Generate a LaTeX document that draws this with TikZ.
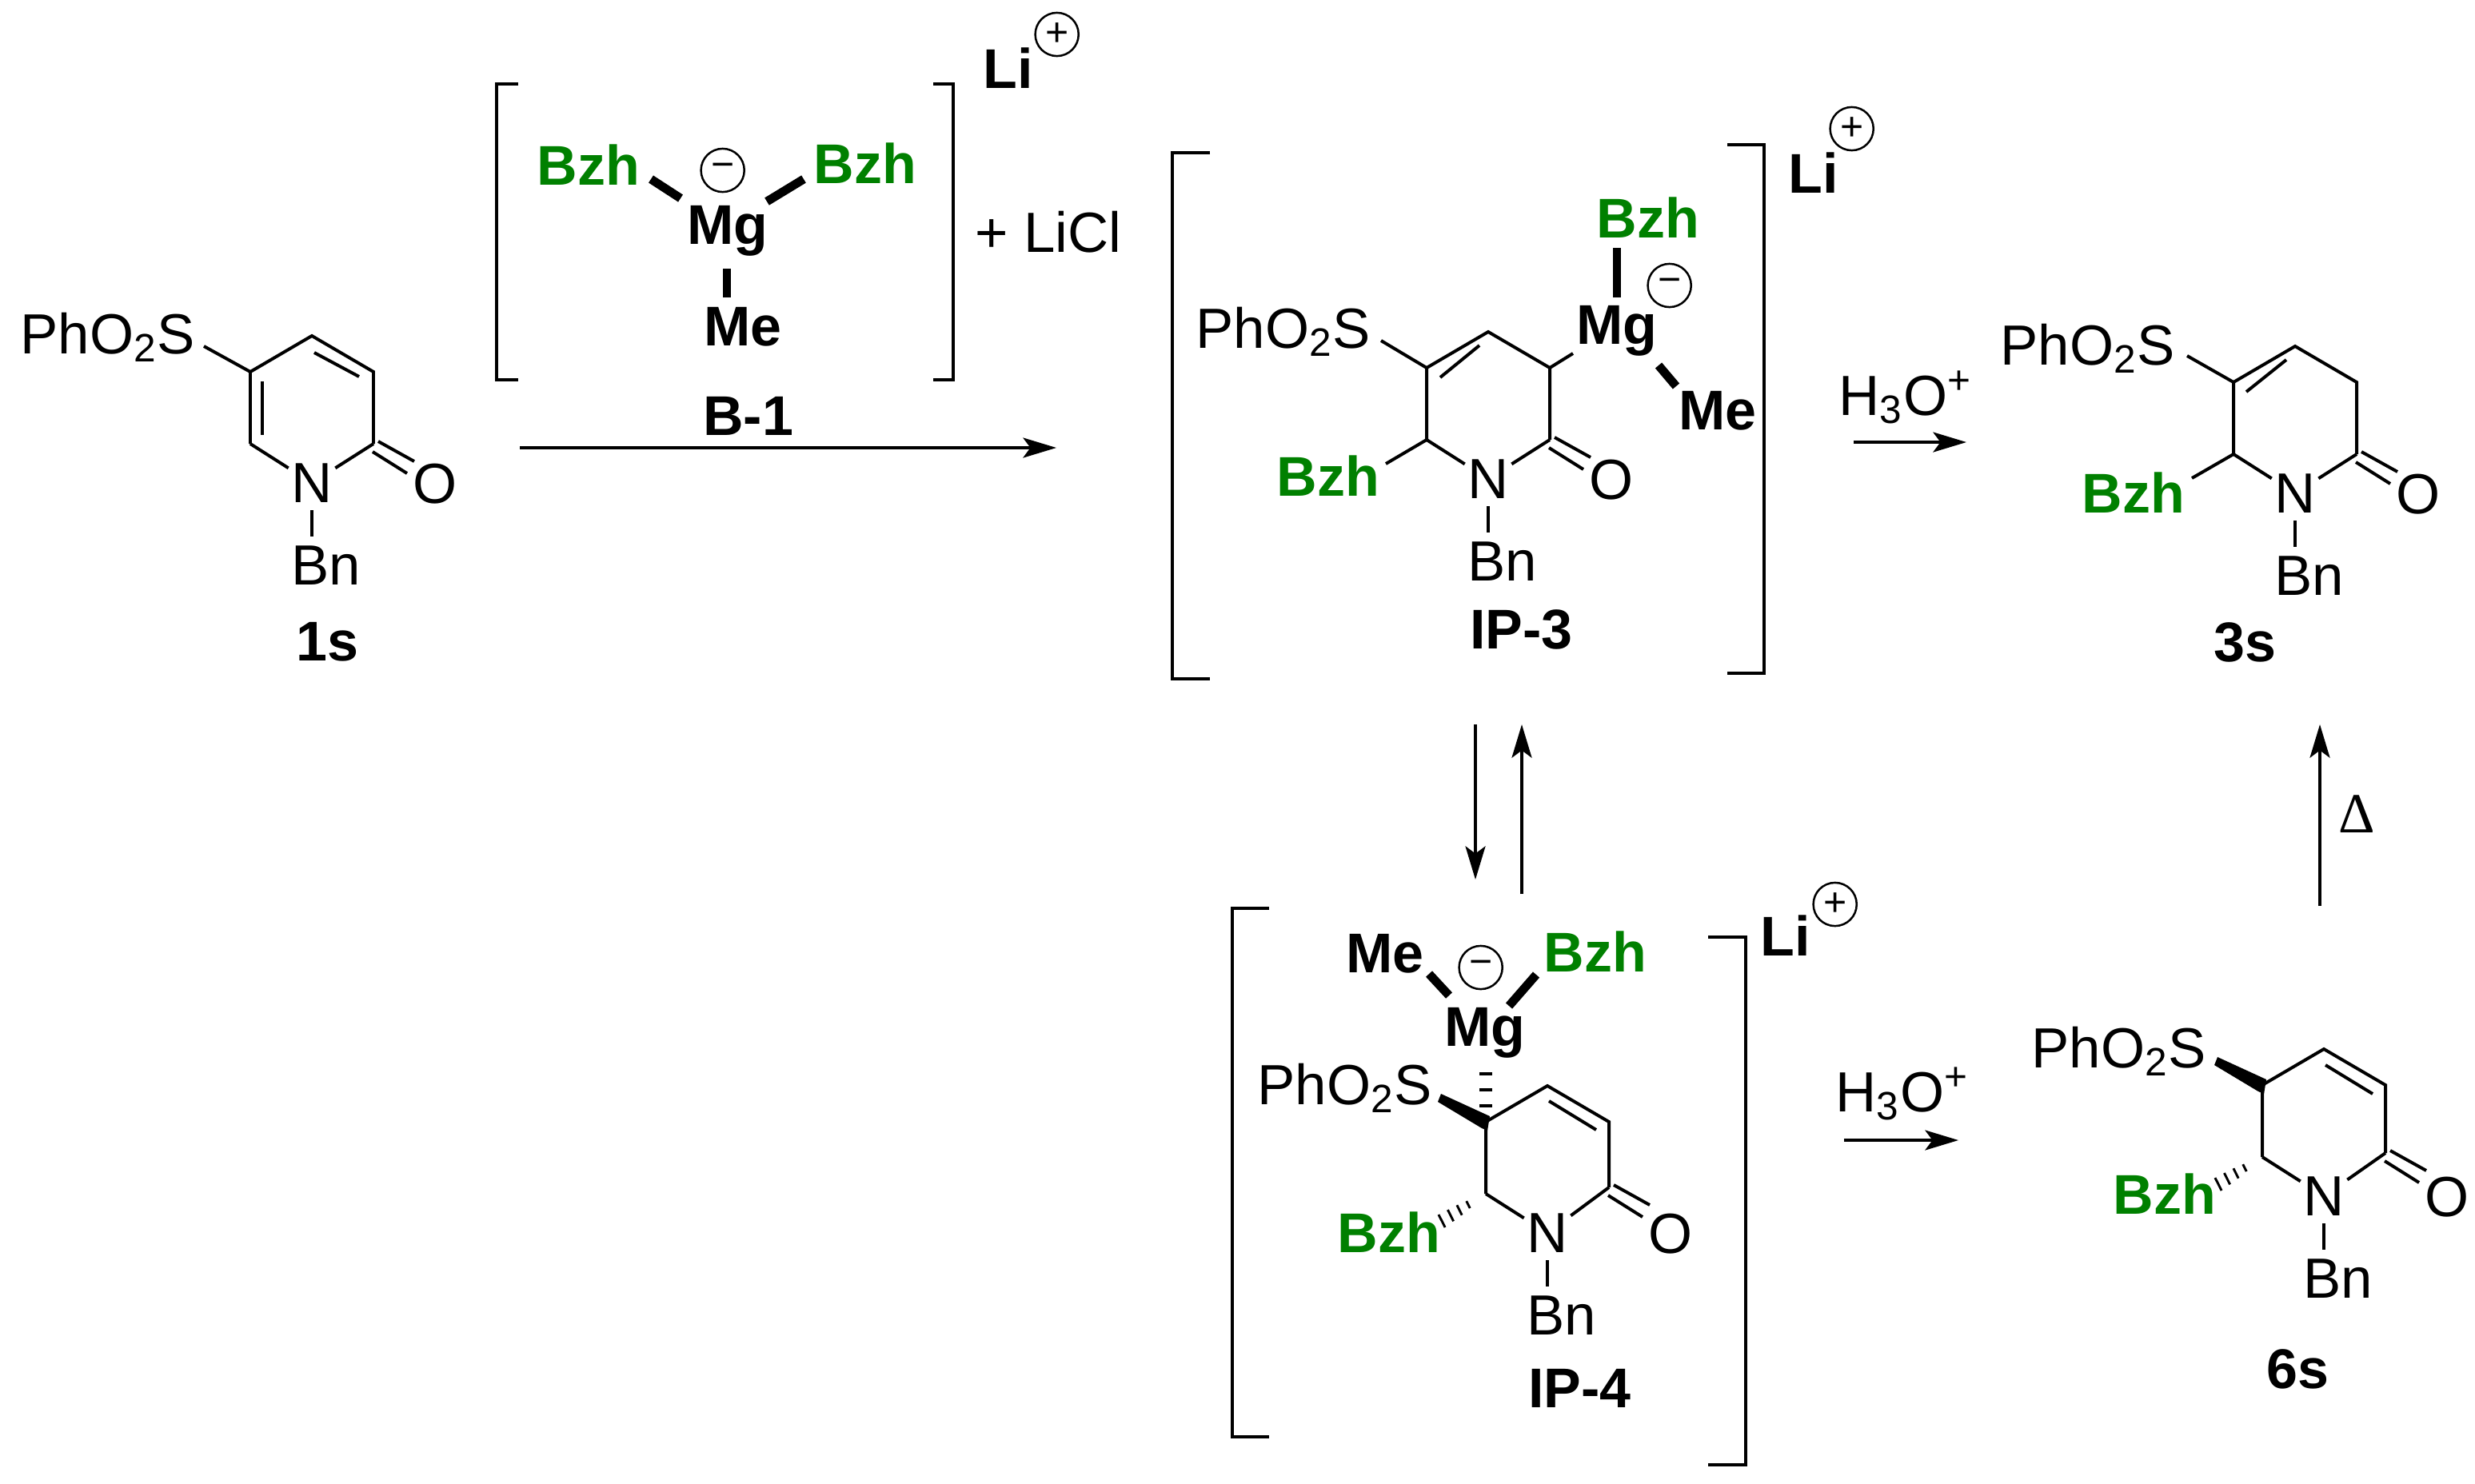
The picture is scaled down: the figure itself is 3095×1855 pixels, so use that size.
\documentclass[tikz,border=0pt]{standalone}
\usepackage{fontspec}
\setmainfont{Liberation Sans}
\newfontfamily\deltafont{Liberation Serif}
\usetikzlibrary{arrows.meta,calc}
\definecolor{bzhgreen}{RGB}{0,128,0}
\tikzset{
  x=0.24pt,y=-0.24pt,
  reg/.style={inner sep=0.7pt,xshift=-0.8pt,font=\fontsize{17}{18}\selectfont},
  bld/.style={inner sep=0.7pt,xshift=-0.8pt,font=\fontsize{16.8}{18}\selectfont\bfseries},
  grn/.style={bld,text=bzhgreen},
  phos/.style={reg,inner sep=0pt,anchor=base west},
  bond/.style={line width=0.95pt},
  bbond/.style={line width=2.6pt},
  brk/.style={line width=1pt},
  rxn/.style={line width=0.85pt,-{Stealth[length=10pt,width=6pt,inset=2.2pt]}},
  chgc/.style={circle,draw,xshift=-0.8pt,line width=0.6pt,inner sep=0pt,minimum size=13pt,font=\fontsize{12}{12}\selectfont},
}
% prefix, x and y of C4, height of C2 below C4
\newcommand{\pyridone}[4]{%
  \begin{scope}[shift={(#2,#3)}]
    \coordinate (#1c4) at (0,0);
    \coordinate (#1c5) at (-77,45);
    \coordinate (#1c3) at (77,45);
    \coordinate (#1c2) at (77,#4);
    \coordinate (#1c6) at (-77,135);
    \node[reg,xshift=0.8pt] (#1n) at (0,184) {N};
    \node[reg] (#1o) at (157,185) {O};
    \node[reg] (#1bn) at (21,287) {Bn};
    \coordinate (#1ca) at ($(#1c2)+(6,-3)$);
    \coordinate (#1cb) at ($(#1c2)+(-1,10)$);
    \coordinate (#1na) at (0,218);
    \coordinate (#1nb) at (0,251);
    \draw[bond,line join=miter] (#1c6) -- (#1c5) -- (#1c4) -- (#1c3) -- (#1c2);
    \draw[bond] (#1c6) -- (#1n) -- (#1c2);
    \draw[bond] (#1ca) -- ++(45,25);
    \draw[bond] (#1cb) -- ++(43,27);
    \draw[bond] (#1na) -- (#1nb);
  \end{scope}}
% hashed bond from C6 toward Bzh
\newcommand{\hashbond}[1]{%
  \foreach \t/\l in {.4/5,.6/7,.8/8,1/9}{%
    \draw[line width=0.7pt] ($(#1c6)+({-55*\t+.45*\l},{34*\t+.89*\l})$) -- ($(#1c6)+({-55*\t-.45*\l},{34*\t-.89*\l})$);
  }}
% bold stereo bond from the sulfur side to C5
\newcommand{\boldwedge}[2]{%
  \fill ($(#1)+(2,-5)$) -- ($(#1)+(-2,5)$) -- ($(#2)+(-5,8)$) -- ($(#2)+(2,11)$) -- ($(#2)+(5,-7)$) -- cycle;}
\begin{document}
\begin{tikzpicture}
\useasboundingbox (0,0) rectangle (3095,1855);
\fill[white] (0,0) rectangle (3095,1855);

% ---- 1s
\pyridone{a}{390}{420}{135}
\draw[bond] (328,477) -- (328,544);
\draw[bond] (393,441) -- (449,471);
\node[phos] (aps) at (28,442) {PhO\textsubscript{2}S};
\coordinate (as) at (255,433);
\draw[bond] (as) -- (ac5);
\node[bld] (lab1s) at (413,803) {1s};

% ---- B-1
\coordinate (b1a) at (648,105); \coordinate (b1b) at (621,105); \coordinate (b1c) at (621,475); \coordinate (b1d) at (648,475);
\draw[brk] (b1a) -- (b1b) -- (b1c) -- (b1d);
\coordinate (b2a) at (1167,105); \coordinate (b2b) at (1192,105); \coordinate (b2c) at (1192,475); \coordinate (b2d) at (1167,475);
\draw[brk] (b2a) -- (b2b) -- (b2c) -- (b2d);
\node[grn] (bz1) at (739,206) {Bzh};
\node[grn] (bz2) at (1085,204) {Bzh};
\node[chgc] (bm) at (907,213) {−};
\node[bld] (bmg) at (913,289) {Mg};
\node[bld] (bme) at (932,409) {Me};
\node[bld] (bl) at (939,520) {B-1};
\node[bld] (bli) at (1264,85) {Li};
\node[chgc] (bp) at (1325,43) {+};
\node[reg] (blicl) at (1314,290) {+ LiCl};
\coordinate (bb1) at (814,224); \coordinate (bb2) at (851,248);
\draw[bbond] (bb1) -- (bb2);
\coordinate (bb3) at (1005,224); \coordinate (bb4) at (959,252);
\draw[bbond] (bb3) -- (bb4);
\coordinate (bb5) at (909,336); \coordinate (bb6) at (909,372);
\draw[bbond] (bb5) -- (bb6);
\coordinate (r1a) at (650,560); \coordinate (r1b) at (1321,560);
\draw[rxn] (r1a) -- (r1b);

% ---- IP-3
\pyridone{c}{1861}{415}{135}
\draw[bond] (1801,472) -- (1850,432);
\node[phos] (cps) at (1498,435) {PhO\textsubscript{2}S};
\coordinate (cs) at (1727,426);
\draw[bond] (cs) -- (cc5);
\node[grn] (cbz) at (1664,595) {Bzh};
\coordinate (cb) at (1733,580);
\draw[bond] (cc6) -- (cb);
\coordinate (cm) at (1967,442);
\draw[bond] (cc3) -- (cm);
\node[bld] (cmg) at (2025,414) {Mg};
\node[grn] (cbz2) at (2064,272) {Bzh};
\node[bld] (cme) at (2151,514) {Me};
\node[chgc] (cmin) at (2091,357) {−};
\coordinate (cb1) at (2022,310); \coordinate (cb2) at (2022,372);
\draw[bbond] (cb1) -- (cb2);
\coordinate (cb3) at (2074,457); \coordinate (cb4) at (2096,483);
\draw[bbond] (cb3) -- (cb4);
\node[bld] (cl) at (1906,787) {IP-3};
\coordinate (c1a) at (1513,191); \coordinate (c1b) at (1466,191); \coordinate (c1c) at (1466,849); \coordinate (c1d) at (1513,849);
\draw[brk] (c1a) -- (c1b) -- (c1c) -- (c1d);
\coordinate (c2a) at (2160,181); \coordinate (c2b) at (2206,181); \coordinate (c2c) at (2206,842); \coordinate (c2d) at (2160,842);
\draw[brk] (c2a) -- (c2b) -- (c2c) -- (c2d);
\node[bld] (cli) at (2271,216) {Li};
\node[chgc] (cp) at (2319,161) {+};

% ---- 3s
\node[reg,inner sep=0pt,anchor=base west] (dh) at (2302,519) {H\textsubscript{3}O\textsuperscript{+}};
\coordinate (r2a) at (2318,553); \coordinate (r2b) at (2459,553);
\draw[rxn] (r2a) -- (r2b);
\pyridone{d}{2870}{433}{135}
\draw[bond] (2809,490) -- (2859,450);
\node[phos] (dps) at (2504,456) {PhO\textsubscript{2}S};
\coordinate (ds) at (2735,445);
\draw[bond] (ds) -- (dc5);
\node[grn] (dbz) at (2671,616) {Bzh};
\coordinate (db) at (2741,598);
\draw[bond] (dc6) -- (db);
\node[bld] (dl) at (2811,803) {3s};

% ---- equilibrium arrows
\coordinate (e1a) at (1845,906); \coordinate (e1b) at (1845,1100);
\draw[rxn] (e1a) -- (e1b);
\coordinate (e2a) at (1903,1118); \coordinate (e2b) at (1903,906);
\draw[rxn] (e2a) -- (e2b);

% ---- delta arrow
\coordinate (u1a) at (2901,1133); \coordinate (u1b) at (2901,906);
\draw[rxn] (u1a) -- (u1b);
\node[reg] (del) at (2951,1018) {\deltafont Δ};

% ---- IP-4
\pyridone{f}{1935}{1358}{127}
\draw[bond] (1937,1377) -- (1996,1413);
\node[phos] (fps) at (1575,1381) {PhO\textsubscript{2}S};
\coordinate (fs) at (1800,1373);
\boldwedge{fs}{fc5}
\node[grn] (fbz) at (1740,1541) {Bzh};
\hashbond{f}
\node[bld] (fmg) at (1860,1292) {Mg};
\node[bld] (fme) at (1735,1193) {Me};
\node[grn] (fbz2) at (1998,1190) {Bzh};
\node[chgc] (fmin) at (1855,1210) {−};
\coordinate (fb1) at (1787,1218); \coordinate (fb2) at (1812,1245);
\draw[bbond] (fb1) -- (fb2);
\coordinate (fb3) at (1921,1219); \coordinate (fb4) at (1887,1258);
\draw[bbond] (fb3) -- (fb4);
\coordinate (fh1) at (1858,1343); \coordinate (fh2) at (1858,1363); \coordinate (fh3) at (1858,1383);
\foreach \n in {fh1,fh2,fh3}{\draw[line width=0.85pt] ($(\n)+(-8,0)$) -- ($(\n)+(8,0)$);}
\node[bld] (fl) at (1979,1736) {IP-4};
\coordinate (f1a) at (1587,1136); \coordinate (f1b) at (1541,1136); \coordinate (f1c) at (1541,1797); \coordinate (f1d) at (1587,1797);
\draw[brk] (f1a) -- (f1b) -- (f1c) -- (f1d);
\coordinate (f2a) at (2136,1172); \coordinate (f2b) at (2183,1172); \coordinate (f2c) at (2183,1832); \coordinate (f2d) at (2136,1832);
\draw[brk] (f2a) -- (f2b) -- (f2c) -- (f2d);
\node[bld] (fli) at (2236,1170) {Li};
\node[chgc] (fp) at (2298,1131) {+};

% ---- 6s
\node[reg,inner sep=0pt,anchor=base west] (gh) at (2298,1390) {H\textsubscript{3}O\textsuperscript{+}};
\coordinate (r3a) at (2306,1426); \coordinate (r3b) at (2449,1426);
\draw[rxn] (r3a) -- (r3b);
\pyridone{g}{2906}{1312}{130}
\draw[bond] (2908,1332) -- (2967,1368);
\node[phos] (gps) at (2543,1335) {PhO\textsubscript{2}S};
\coordinate (gs) at (2771,1327);
\boldwedge{gs}{gc5}
\node[grn] (gbz) at (2710,1493) {Bzh};
\hashbond{g}
\node[bld] (gl) at (2877,1712) {6s};
\end{tikzpicture}
\end{document}
